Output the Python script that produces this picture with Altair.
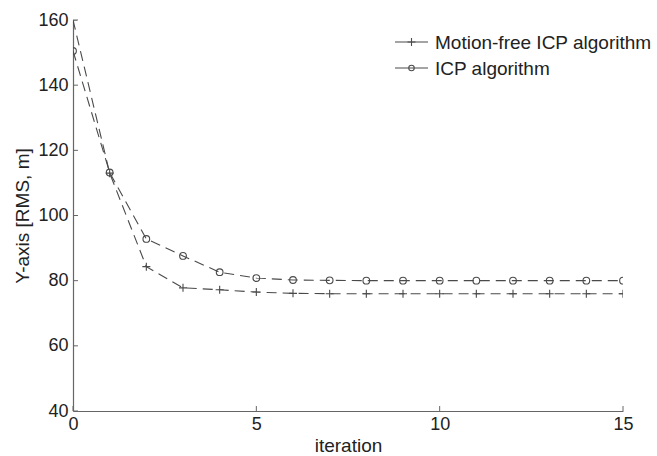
import altair as alt
import pandas as pd

# Convergence of RMS error per iteration for the two registration methods
iterations = list(range(16))
motion_free = [160, 113, 84.3, 77.8, 77.2, 76.5, 76.1, 76.0, 76, 76, 76, 76, 76, 76, 76, 76]
icp = [150.5, 113.2, 92.8, 87.6, 82.6, 80.8, 80.2, 80.1, 80, 80, 80, 80, 80, 80, 80, 80]
series_names = ["Motion-free ICP algorithm", "ICP algorithm"]
x_ticks = [0, 5, 10, 15]
y_ticks = [40, 60, 80, 100, 120, 140, 160]

W, H = 550, 391
LINE = "#4a4a4a"
AXIS = "#666666"
TEXT = "#222222"
FONT = "Liberation Sans"

# custom marker paths: thin plus and open circle
PLUS = "M-1,0H1M0,-1V1"
CIRCLE = "circle"

df = pd.concat([
    pd.DataFrame({"iteration": iterations, "rms": motion_free, "series": series_names[0]}),
    pd.DataFrame({"iteration": iterations, "rms": icp, "series": series_names[1]}),
])

x_scale = alt.Scale(domain=[0, 15], nice=False, zero=False)
y_scale = alt.Scale(domain=[40, 160], nice=False, zero=False)

x_axis = alt.Axis(values=x_ticks, title="iteration", ticks=False, grid=False,
                  labelPadding=4, titlePadding=3, labelFlush=False)
y_axis = alt.Axis(values=y_ticks, title="Y-axis [RMS, m]", ticks=False, grid=False,
                  labelPadding=5, titlePadding=5, labelFlush=False)

X = alt.X("iteration:Q", scale=x_scale, axis=x_axis)
Y = alt.Y("rms:Q", scale=y_scale, axis=y_axis)

base = alt.Chart(df)

lines = base.mark_line(strokeDash=[10, 6], strokeWidth=1.1, color=LINE, clip=True).encode(
    x=X, y=Y, detail="series:N"
)

plus_pts = base.transform_filter(alt.datum.series == series_names[0]).mark_point(
    shape=PLUS, size=64, filled=False, color=LINE, strokeWidth=1.1, opacity=1, clip=True
).encode(x=X, y=Y)

circle_pts = base.transform_filter(alt.datum.series == series_names[1]).mark_point(
    shape=CIRCLE, size=45, filled=False, color=LINE, strokeWidth=1.1, opacity=1, clip=True
).encode(x=X, y=Y)

# inward-pointing tick marks
ytick_df = pd.DataFrame({"rms": y_ticks})
xtick_df = pd.DataFrame({"iteration": x_ticks})
y_tick_marks = alt.Chart(ytick_df).mark_rule(color=AXIS, strokeWidth=1).encode(
    y=Y, x=alt.value(0), x2=alt.value(5)
)
x_tick_marks = alt.Chart(xtick_df).mark_rule(color=AXIS, strokeWidth=1).encode(
    x=X, y=alt.value(H), y2=alt.value(H - 5)
)

# legend drawn in the upper right corner
legend_layers = []
markers = [PLUS, CIRCLE]
sizes = [64, 30]
for i, name in enumerate(series_names):
    ly = 22 + 26 * i
    one = pd.DataFrame({"k": [0]})
    legend_layers.append(
        alt.Chart(one).mark_rule(color=LINE, strokeWidth=1.1).encode(
            x=alt.value(322), x2=alt.value(355), y=alt.value(ly)
        )
    )
    legend_layers.append(
        alt.Chart(one).mark_point(shape=markers[i], size=sizes[i], filled=False,
                                  color=LINE, strokeWidth=1.1, opacity=1).encode(
            x=alt.value(338.5), y=alt.value(ly)
        )
    )
    legend_layers.append(
        alt.Chart(one).mark_text(align="left", baseline="middle", fontSize=19,
                                 font=FONT, color=TEXT).encode(
            x=alt.value(362), y=alt.value(ly + 1), text=alt.value(name)
        )
    )

chart = alt.layer(
    lines, plus_pts, circle_pts, y_tick_marks, x_tick_marks, *legend_layers
).properties(
    width=W, height=H,
    autosize=alt.AutoSizeParams(type="none"),
    padding={"left": 73, "top": 20, "right": 34, "bottom": 45},
    background="white",
).configure_view(stroke=None).configure_axis(
    domainColor=AXIS, domainWidth=1.2,
    labelFont=FONT, labelFontSize=18, labelColor=TEXT,
    titleFont=FONT, titleFontSize=19, titleFontWeight="normal", titleColor=TEXT,
)

chart.save("out.html", embed_options={"renderer": "svg", "actions": False})
